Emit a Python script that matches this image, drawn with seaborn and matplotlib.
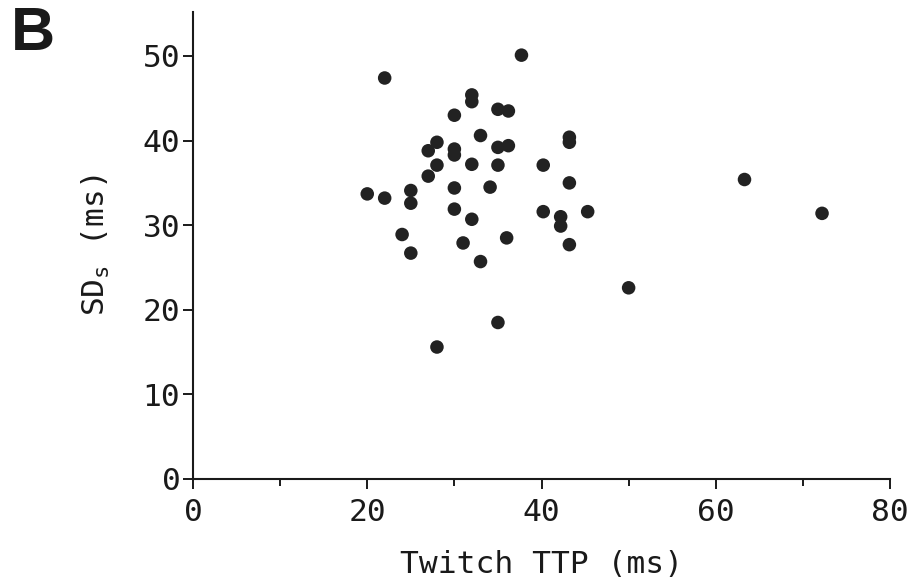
import matplotlib
matplotlib.use("Agg")
import matplotlib.pyplot as plt
from matplotlib.ticker import MultipleLocator
import pandas as pd
import seaborn as sns

# Twitch time-to-peak (ms) and SD_s (ms) for each motor unit
twitch_ttp = [37.7, 22.0, 32.0, 32.0, 35.0, 36.2, 30.0, 33.0, 43.2, 43.2,
              28.0, 27.0, 30.0, 30.0, 35.0, 36.2, 28.0, 32.0, 35.0, 40.2,
              27.0, 43.2, 20.0, 22.0, 25.0, 25.0, 30.0, 34.1, 30.0, 32.0,
              40.2, 42.2, 42.2, 45.3, 24.0, 25.0, 31.0, 36.0, 33.0, 43.2,
              35.0, 28.0, 50.0, 63.3, 72.2]
sd_s = [50.1, 47.4, 45.4, 44.6, 43.7, 43.5, 43.0, 40.6, 40.4, 39.8,
        39.8, 38.8, 39.0, 38.3, 39.2, 39.4, 37.1, 37.2, 37.1, 37.1,
        35.8, 35.0, 33.7, 33.2, 34.1, 32.6, 34.4, 34.5, 31.9, 30.7,
        31.6, 31.0, 29.9, 31.6, 28.9, 26.7, 27.9, 28.5, 25.7, 27.7,
        18.5, 15.6, 22.6, 35.4, 31.4]

x_ticks = [0, 20, 40, 60, 80]
y_ticks = [0, 10, 20, 30, 40, 50]

df = pd.DataFrame({"ttp": twitch_ttp, "sd": sd_s})

sns.set_style("ticks")
plt.rcParams["font.family"] = ["DejaVu Sans Mono", "DejaVu Sans"]
plt.rcParams["mathtext.default"] = "regular"

fig = plt.figure(figsize=(9.1, 5.87), dpi=100)
ax = fig.add_axes([193 / 910, 1 - 479 / 587, 697 / 910, 467 / 587])

sns.scatterplot(data=df, x="ttp", y="sd", ax=ax, s=95, color="#222222",
                edgecolor="none", linewidth=0)

ax.set_xlim(0, 80)
ax.set_ylim(0, 55.2)
ax.set_xticks(x_ticks)
ax.set_yticks(y_ticks)
ax.xaxis.set_minor_locator(MultipleLocator(10))

ink = "#1a1a1a"
for side in ("top", "right"):
    ax.spines[side].set_visible(False)
for side in ("left", "bottom"):
    ax.spines[side].set_linewidth(1.5)
    ax.spines[side].set_color(ink)

ax.tick_params(axis="both", which="major", direction="out", length=7,
               width=1.4, color=ink, labelsize=22.5, labelcolor=ink)
ax.tick_params(axis="x", which="major", pad=7)
ax.tick_params(axis="y", which="major", pad=2)
ax.tick_params(axis="x", which="minor", direction="out", length=5,
               width=1.4, color=ink)

ax.set_xlabel("Twitch TTP (ms)", fontsize=22.5, color=ink, labelpad=16)
ax.set_ylabel("SD$_s$ (ms)", fontsize=22.5, color=ink, labelpad=22)

fig.text(11 / 910, 1 - 6 / 587, "B", fontsize=44, fontweight="bold",
         family="Liberation Sans", color=ink, ha="left", va="top")

fig.savefig("out.png", dpi=100, facecolor="white")
